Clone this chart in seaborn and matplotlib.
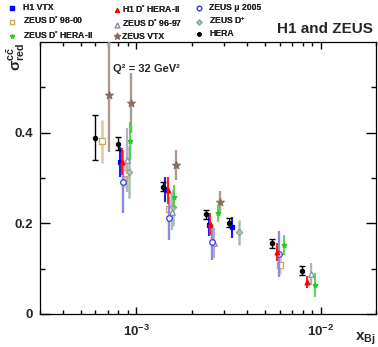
import numpy as np
import pandas as pd
import matplotlib
matplotlib.use("Agg")
import matplotlib.pyplot as plt
import seaborn as sns
from matplotlib.ticker import FixedLocator, FixedFormatter, LogLocator, NullFormatter

# ---------------- data ----------------
h1vtx_x = [8.2e-4, 1.43e-3, 2.47e-3, 3.30e-3]
h1vtx_y = [0.336, 0.275, 0.196, 0.191]
h1vtx_e = [0.033, 0.028, 0.024, 0.024]

h1dst_x = [8.4e-4, 1.48e-3, 2.52e-3, 5.79e-3, 8.42e-3]
h1dst_y = [0.336, 0.273, 0.198, 0.137, 0.071]
h1dst_e = [0.030, 0.030, 0.024, 0.020, 0.013]

zmu_x = [8.5e-4, 1.50e-3, 2.57e-3, 5.93e-3]
zmu_y = [0.292, 0.211, 0.159, 0.132]
zmu_e = [0.070, 0.048, 0.040, 0.050]

zd9800_x = [6.53e-4, 8.64e-4, 1.51e-3, 6.04e-3]
zd9800_y = [0.381, 0.310, 0.232, 0.108]
zd9800_e = [0.048, 0.030, 0.020, 0.020]

zd9697_x = [8.94e-4, 1.56e-3, 2.65e-3, 8.93e-3]
zd9697_y = [0.340, 0.226, 0.156, 0.088]
zd9697_e = [0.070, 0.040, 0.033, 0.024]

zvtx_x = [7.09e-4, 9.39e-4, 1.64e-3, 2.83e-3]
zvtx_y = [0.484, 0.466, 0.329, 0.247]
zvtx_e = [0.126, 0.066, 0.033, 0.024]

zdh2_x = [9.2e-4, 1.61e-3, 2.77e-3, 6.37e-3, 9.28e-3]
zdh2_y = [0.381, 0.259, 0.222, 0.152, 0.064]
zdh2_e = [0.042, 0.026, 0.018, 0.022, 0.026]

zdp_x = [9.08e-4, 1.59e-3, 3.63e-3]
zdp_y = [0.313, 0.235, 0.180]
zdp_e = [0.057, 0.040, 0.028]

hera_x = [5.99e-4, 7.98e-4, 1.39e-3, 2.39e-3, 3.20e-3, 5.46e-3, 7.95e-3]
hera_y = [0.389, 0.376, 0.281, 0.220, 0.201, 0.156, 0.095]
hera_e = [0.050, 0.015, 0.010, 0.010, 0.010, 0.010, 0.010]

labels = ["H1 VTX", "ZEUS D$^{*}$ 98-00", "ZEUS D$^{*}$ HERA-II",
          "H1 D$^{*}$ HERA-II", "ZEUS D$^{*}$ 96-97", "ZEUS VTX",
          "ZEUS \u03bc 2005", "ZEUS D$^{+}$", "HERA"]

x_ticks = [1e-3, 1e-2]
x_ticklabels = [r"$10^{-3}$", r"$10^{-2}$"]
y_ticks = [0.0, 0.2, 0.4]
y_ticklabels = ["0", "0.2", "0.4"]

# ---------------- style ----------------
sns.set_theme(style="white")
plt.rcParams["font.family"] = ["Liberation Sans", "DejaVu Sans"]
plt.rcParams["font.weight"] = "bold"
plt.rcParams["mathtext.fontset"] = "custom"
plt.rcParams["mathtext.rm"] = "Liberation Sans:bold"
plt.rcParams["mathtext.bf"] = "Liberation Sans:bold"
plt.rcParams["mathtext.it"] = "Liberation Sans:bold"
plt.rcParams["mathtext.default"] = "rm"

fig = plt.figure(figsize=(3.78, 3.47), dpi=100)
W, H = 378.0, 347.0
ax = fig.add_axes([40 / W, 1 - 314 / H, 336 / W, 272 / H])

# (x, y, err, label, marker, size, face, edge, barcolor, barwidth, cap, zorder)
series = [
    (zd9800_x, zd9800_y, zd9800_e, labels[1], "s", 14, "white", "#d6a35c", "#e8cba3", 2.0, 0, 3),
    (zd9697_x, zd9697_y, zd9697_e, labels[4], "^", 16, "white", "#8c8ca8", "#b2b4c2", 1.6, 0, 3),
    (zdp_x, zdp_y, zdp_e, labels[7], "D", 10, "#b4c8b8", "#88a490", "#a8bead", 1.8, 0, 3),
    (zmu_x, zmu_y, zmu_e, labels[6], "o", 16, "white", "#3a3ad6", "#8a8aee", 1.7, 0, 4),
    (zvtx_x, zvtx_y, zvtx_e, labels[5], "*", 32, "#8c6c5c", "#8c6c5c", "#b09890", 1.7, 0, 4),
    (zdh2_x, zdh2_y, zdh2_e, labels[2], "*", 12, "#22cc22", "#22cc22", "#3ad23a", 1.2, 0, 5),
    (h1vtx_x, h1vtx_y, h1vtx_e, labels[0], "s", 12, "#0000ff", "#0000ff", "#1a1aff", 1.5, 0, 5),
    (h1dst_x, h1dst_y, h1dst_e, labels[3], "^", 12, "#ff0000", "#ff0000", "#ff2020", 1.5, 0, 6),
    (hera_x, hera_y, hera_e, labels[8], "o", 9, "black", "black", "black", 1.0, 2.2, 7),
]

handles = {}
for x, y, e, lab, mk, s, fc, ec, bc, bw, cap, z in series:
    df = pd.DataFrame({"x": x, "y": y})
    ax.errorbar(x, y, yerr=e, fmt="none", ecolor=bc, elinewidth=bw,
                capsize=cap, capthick=1.0, zorder=z)
    sns.scatterplot(data=df, x="x", y="y", marker=mk, s=s, color=ec,
                    facecolor=fc, edgecolor=ec, linewidth=0.9, ax=ax,
                    zorder=z + 0.5, legend=False)
    handles[lab] = ax.collections[-1]

ax.set_xscale("log")
ax.set_xlim(3e-4, 2e-2)
ax.set_ylim(0, 0.6)
ax.set_xlabel("")
ax.set_ylabel("")

ax.xaxis.set_major_locator(FixedLocator(x_ticks))
ax.xaxis.set_major_formatter(FixedFormatter(x_ticklabels))
ax.xaxis.set_minor_locator(LogLocator(base=10, subs=np.arange(2, 10)))
ax.xaxis.set_minor_formatter(NullFormatter())
ax.yaxis.set_major_locator(FixedLocator(y_ticks))
ax.yaxis.set_major_formatter(FixedFormatter(y_ticklabels))
ax.yaxis.set_minor_locator(FixedLocator([0.1, 0.3, 0.5]))

for sp in ax.spines.values():
    sp.set_color("black")
    sp.set_linewidth(0.9)
ax.tick_params(axis="both", which="both", direction="in", top=True, right=True,
               bottom=True, left=True, color="black", width=1.0)
ax.tick_params(axis="y", which="major", length=7.2, labelsize=9.5, pad=5)
ax.tick_params(axis="y", which="minor", length=3.6)
ax.tick_params(axis="x", which="major", length=5.0, labelsize=9.5, pad=7)
ax.tick_params(axis="x", which="minor", length=2.8)
for t in ax.get_xticklabels() + ax.get_yticklabels():
    t.set_fontweight("bold")

# legends (three columns)
cols = [
    ([labels[0], labels[1], labels[2]], 7.5, 1.0, 0.78),
    ([labels[3], labels[4], labels[5]], 115.0, 0.5, 0.26),
    ([labels[6], labels[7], labels[8]], 195.0, 1.0, 0.66),
]
for labs, x0, hl, hp in cols:
    leg = fig.legend([handles[l] for l in labs], labs, loc="upper left",
                     bbox_to_anchor=(x0 / W, 1 - 3 / H), frameon=False,
                     prop={"size": 6.2, "weight": "bold"}, borderpad=0,
                     borderaxespad=0, handlelength=hl, handletextpad=hp,
                     labelspacing=0.3, markerscale=0.8, scatterpoints=1)
    fig.add_artist(leg)

fig.text(373 / W, 1 - 33 / H, "H1 and ZEUS", ha="right", va="baseline",
         fontsize=11, fontweight="bold")
fig.text(113 / W, 1 - 72 / H, "Q\u00b2 = 32 GeV\u00b2", ha="left", va="baseline",
         fontsize=8, fontweight="bold")
fig.text(16 / W, 1 - 43 / H, r"$\sigma^{c\bar{c}}_{red}$", rotation=90,
         ha="center", va="top", fontsize=11)
fig.text(376 / W, 1 - 341 / H, r"x$_{Bj}$", ha="right", va="baseline",
         fontsize=11, fontweight="bold")

fig.savefig("out.png", dpi=100)
